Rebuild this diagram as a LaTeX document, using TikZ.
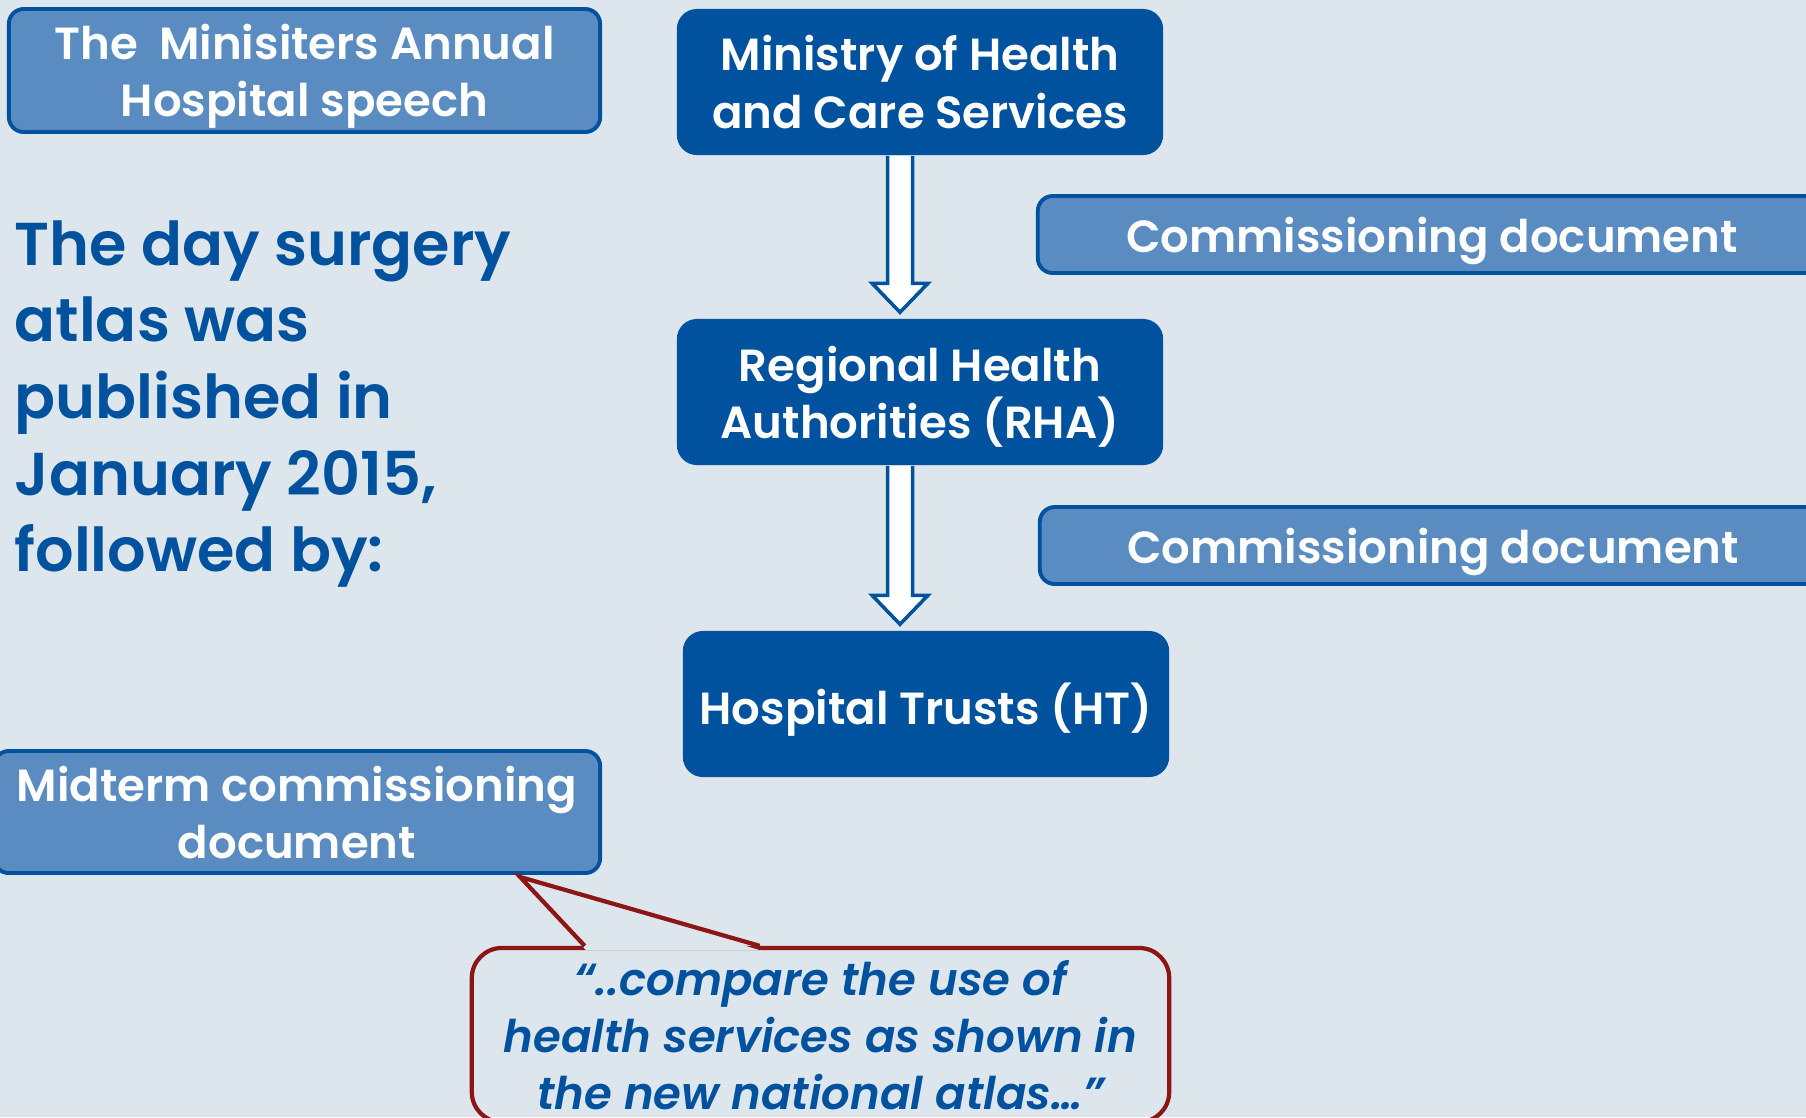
\documentclass[tikz,border=0pt]{standalone}
\usepackage{fontspec}
\setmainfont{Poppins}[BoldFont={Poppins SemiBold},BoldItalicFont={Poppins SemiBold Italic}]
\usetikzlibrary{calc,positioning}
\definecolor{bgblue}{HTML}{DCE6EC}
\definecolor{navy}{HTML}{00519E}
\definecolor{paleblue}{HTML}{5A8CC1}
\definecolor{darkred}{HTML}{8C1515}

\begin{document}
\begin{tikzpicture}[x=0.01cm,y=-0.01cm,
    darkbox/.style={fill=navy,text=white,rounded corners=0.2cm,minimum width=4.86cm,minimum height=1.46cm,inner sep=2pt,text depth=0pt,align=center,font=\fontsize{12.8}{16.3}\selectfont\bfseries},
    lightbox/.style={draw=navy,line width=1.1pt,fill=paleblue,text=white,rounded corners=0.15cm,inner sep=2pt,text depth=0pt,align=center,font=\fontsize{12.8}{16.3}\selectfont\bfseries},
    blockarrow/.style={draw=navy,line width=1pt,fill=white},
    quoteline/.style={draw=darkred,line width=1.2pt}]
    \path[use as bounding box,clip] (0,0) rectangle (1806,1117);
    \fill[bgblue] (0,0) rectangle (1806,1117);

    \node[lightbox,minimum width=5.91cm,minimum height=1.23cm] (speech) at (304.5,70.5) {The\ \ Minisiters Annual\\Hospital speech};
    \node[darkbox] (min) at (920,82) {Ministry of Health\\and Care Services};
    \node[lightbox,minimum width=7.88cm,minimum height=0.77cm] (com1) at (1432,234.5) {Commissioning document};
    \node[darkbox] (rha) at (920,392) {Regional Health\\Authorities (RHA)};
    \node[lightbox,minimum width=7.86cm,minimum height=0.77cm] (com2) at (1433,545.5) {Commissioning document};
    \node[darkbox] (ht) at (926,704) {Hospital Trusts (HT)};
    \node[lightbox,minimum width=6.06cm,minimum height=1.22cm] (mid) at (297,812) {Midterm commissioning\\document};
    \node[anchor=west,inner sep=0pt,align=left,text=navy,font=\fontsize{17.2}{21.8}\selectfont\bfseries] (atlas) at (14,404) {The day surgery\\atlas was\\published in\\January 2015,\\followed by:};
    \node[draw=darkred,line width=1.2pt,rounded corners=0.3cm,minimum width=6.97cm,minimum height=1.74cm,inner sep=2pt,align=center,text=navy,font=\fontsize{12.8}{16.3}\selectfont\bfseries\itshape] (quote) at (820.5,1035) {``..compare the use of\\health services as shown in\\the new national atlas\ldots''};

    % block arrows down the chain
    \foreach \a/\b in {min/rha,rha/ht}
    {
      \coordinate (s) at ($(\a.south)+(-20,0)$);
      \coordinate (t) at ($(\b.north)+(0,-6)$);
      \coordinate (e) at (s |- t);
      \draw[blockarrow] ($(s)+(-12.5,0)$) -- ($(e)+(-12.5,-29)$) -- ($(e)+(-28,-29)$) -- (e)
        -- ($(e)+(28,-29)$) -- ($(e)+(12.5,-29)$) -- ($(s)+(12.5,0)$);
    }

    % speech bubble pointer
    \coordinate (tip) at ($(mid.south east)+(-82,2)$);
    \coordinate (qa) at ($(quote.north west)+(115,0)$);
    \coordinate (qb) at ($(quote.north west)+(290,0)$);
    \fill[bgblue] ($(qa)+(1,4)$) -- (tip) -- ($(qb)+(-1,4)$) -- cycle;
    \draw[quoteline,line join=miter] (qa) -- (tip) -- (qb);
  \end{tikzpicture}
\end{document}
